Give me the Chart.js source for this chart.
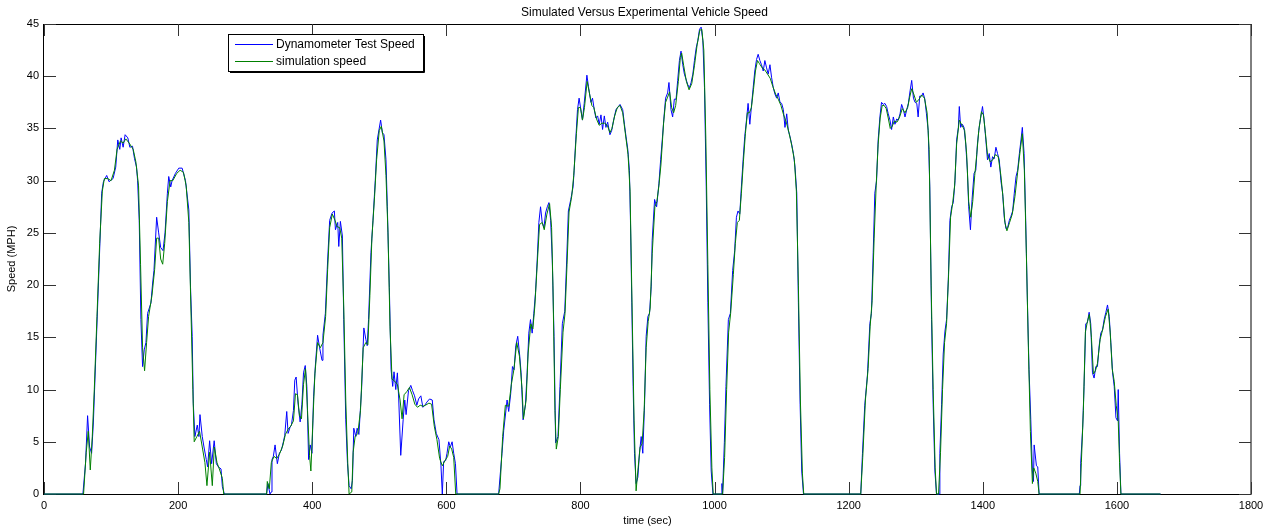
<!DOCTYPE html>
<html>
<head>
<meta charset="utf-8">
<title>Simulated Versus Experimental Vehicle Speed</title>
<script src="https://cdn.jsdelivr.net/npm/chart.js@4.4.1/dist/chart.umd.min.js"></script>
<style>
  html, body { margin: 0; padding: 0; background: #fff; }
  #wrap { width: 1270px; height: 529px; position: relative; }
</style>
</head>
<body>
<div id="wrap"><canvas id="speedChart"></canvas></div>
<script>
// chart text
const chartTitle = 'Simulated Versus Experimental Vehicle Speed';
const xTitle = 'time (sec)';
const yTitle = 'Speed (MPH)';
const seriesNames = ['Dynamometer Test Speed', 'simulation speed'];

// axis ticks
const xTicks = [0, 200, 400, 600, 800, 1000, 1200, 1400, 1600, 1800];
const yTicks = [0, 5, 10, 15, 20, 25, 30, 35, 40, 45];

// dynamometer test speed (blue)
const dynoTime = [
  0, 58, 62, 65, 68, 71, 73.6, 78.6, 82.6, 86, 88.6, 93.5, 97, 103, 107, 110, 113, 115, 118, 121,
  125, 128, 132, 135, 138, 139.6, 142, 144.5, 147, 149.5, 152, 154.5, 159.5, 162, 164, 168, 171, 174, 177.5, 180.5,
  184, 186, 189, 191, 196, 201, 206, 211, 216, 218.5, 221, 222.6, 225, 228.6, 231, 232.6, 236, 238.6, 242, 244,
  247, 250, 253.8, 257, 260, 264, 266, 269,
  332, 334, 337, 339, 340, 342, 344.6, 348, 351, 354, 357, 359, 362, 364, 367, 369, 372, 374, 376, 379,
  382, 384.6, 387, 389.6, 392, 394.6, 397, 399.6, 402, 404.6, 408, 411, 414.6, 416, 419.6, 423, 426, 429.6, 433, 434.6,
  438, 439.6, 442, 445, 447, 450, 452.6, 455, 458, 460, 462, 465, 467, 469.6, 473.6, 477, 480, 482, 484, 487.6,
  490.6, 494, 497, 502, 504.6, 507, 510, 512, 515, 517.6, 520, 522, 524.6, 527, 529, 532, 535.6, 538, 540, 543.6,
  547, 549.6, 552.6, 556, 558.6, 562, 565, 568, 571, 575, 579, 581.6, 585, 589, 592, 594, 596, 599, 601, 603.6,
  606, 608.6, 611, 613.6, 616,
  678, 683, 685.6, 690.6, 693, 696, 698.6, 701, 703.6, 706.5, 709.5, 711.5, 714.5, 718, 720.5, 723, 725.5, 728, 730.5, 733,
  735.5, 738, 740.5, 743, 745.6, 748, 750.6, 753, 755.6, 758, 760.6, 763, 766.5, 769.5, 773, 776.6, 779.5, 782, 785.6, 789,
  790.6, 793, 795.6, 798, 800.6, 803, 805.6, 809.6, 812, 815.6, 818, 820.6, 823, 825.6, 828, 830.6, 833, 835.6, 838, 840.6,
  844, 846.6, 849.5, 853, 856.6, 859, 863, 865.6, 868, 870.6, 873, 874.6, 876.6, 878.6, 880.6, 883, 885.6, 888, 890.6, 893,
  895.6, 898, 900.6, 903, 905.6, 907, 910.6, 913.6, 917, 919.6, 922, 924.6, 927, 930, 932, 935, 937.5, 940, 942.6, 945,
  947.6, 950, 952.6, 955, 960, 962.6, 965, 967.6, 970, 972.6, 975, 977.6, 980, 982.6, 985, 987.6, 990, 992.6, 995, 997.6,
  1010, 1011, 1012, 1013, 1014.6, 1017, 1020.6, 1023.6, 1027, 1030, 1032.6, 1035, 1037.6, 1040, 1042.6, 1045, 1047.6, 1050, 1052.6, 1055,
  1057.6, 1060, 1062.6, 1065, 1067.6, 1070, 1072.6, 1075, 1077.6, 1080, 1082.6, 1085, 1087.6, 1090, 1092.6, 1095, 1097.6, 1100, 1102.6, 1105,
  1107.6, 1110, 1112.6, 1115, 1117.6, 1120, 1122.6, 1125, 1127.6, 1130, 1132.6,
  1218, 1220.6, 1224, 1228, 1231.6, 1234, 1236.6, 1239, 1241.6, 1244, 1246.6, 1249, 1251.6, 1254, 1256.6, 1259, 1261.6, 1264, 1266.6, 1269,
  1271.6, 1274, 1276.6, 1279, 1281.6, 1284, 1286.6, 1289, 1291.6, 1294, 1296.6, 1299, 1301.6, 1303.6, 1306, 1308.6, 1311, 1313.6, 1316, 1318.6,
  1321, 1323.6, 1326, 1328.6, 1331, 1335, 1336, 1338.6, 1341, 1343.6, 1346, 1348.6, 1351, 1353.6, 1356, 1358.6, 1361, 1363.6, 1365, 1367,
  1369.6, 1372, 1374.6, 1377, 1379, 1381.6, 1384, 1387, 1389.6, 1392, 1394.6, 1397, 1399.6, 1402, 1404.6, 1407, 1409.6, 1412, 1414.6, 1417,
  1419.6, 1422, 1424.6, 1427, 1429.6, 1432, 1434.6, 1437, 1439.6, 1442, 1444.6, 1447, 1449.6, 1452, 1454.6, 1457, 1459, 1461.6, 1464, 1466.6,
  1469, 1471.6, 1474, 1475.6, 1476.6, 1480, 1482, 1484,
  1544, 1545, 1546, 1549, 1551, 1553.6, 1556, 1558.6, 1561, 1563.6, 1566, 1568.6, 1571, 1573.6, 1576, 1578.6, 1581, 1583.6, 1586, 1588.6,
  1591, 1593.6, 1596, 1598.6, 1601, 1602, 1604, 1606, 1665
];
const dynoSpeed = [
  0, 0, 3, 7.5, 4.5, 3.9, 6.8, 15.6, 22.6, 28.8, 29.9, 30.5, 29.9, 30.2, 31.3, 33.9, 33, 34.1, 33.2, 34.4,
  34.1, 33.2, 33.3, 32.1, 31.3, 30, 26.2, 16.7, 12.2, 13.8, 14.5, 17.3, 18.3, 20.2, 21.4, 26.5, 25, 23.6, 23.3, 25,
  28.8, 30.4, 29.4, 30, 30.7, 31.2, 31.2, 30, 27.2, 19.8, 15.1, 8.7, 5.5, 6.6, 5.5, 7.6, 5.5, 4.5, 3.3, 2.6,
  5.1, 2.9, 5.1, 2.9, 2.6, 2.4, 0.7, 0,
  0, 1, 0, 0.2, 3.3, 3.6, 4.7, 2.9, 3.9, 4.2, 5.0, 5.6, 7.9, 5.8, 6.4, 6.6, 8.0, 10.9, 11.2, 8.6,
  6.9, 8.6, 11.6, 12.3, 10.3, 3.3, 4.7, 3.9, 9.3, 12.2, 15.2, 14, 12.8, 15.2, 17.3, 22.4, 26.2, 26.9, 27.1, 25.3,
  26, 23.7, 26.1, 24.7, 16.7, 7.1, 2.9, 0.8, 0.5, 1.3, 6.3, 5.5, 6.3, 5.7, 10, 15.9, 14.8, 14.2, 16.7, 23.1,
  26.2, 30, 33.9, 35.8, 34.6, 34.4, 32, 27.5, 19.8, 11.9, 10.3, 11.7, 10, 11.6, 9.1, 3.7, 7.1, 9, 7.6, 9.9,
  10.4, 9.9, 9.4, 8.5, 9.1, 9.4, 8.3, 8.5, 8.8, 9.1, 9, 7.1, 5.8, 5.2, 2.7, 0, 3.1, 3.2, 3.9, 5.0,
  4.5, 5.0, 3.9, 2.9, 0,
  0, 3.9, 6.1, 9, 7.9, 9.6, 12.2, 11.9, 14.2, 15.1, 13.2, 11.6, 7.1, 8.6, 11.6, 15.4, 16.7, 15.4, 17.3, 19.3,
  22.4, 26, 27.5, 26, 25.5, 26.9, 27.5, 27.9, 26.2, 22.4, 15.1, 4.9, 5.5, 10.3, 16.3, 17.5, 22.4, 27.1, 28.2, 29.4,
  31, 33.9, 36.8, 37.9, 36.8, 35.8, 37.4, 40.1, 39, 37.5, 37.9, 36.8, 36, 36.2, 35.4, 36.3, 34.9, 36.2, 35.1, 35.6,
  34.4, 34.8, 35.8, 36.8, 37.1, 37.3, 36.8, 35.4, 34.2, 33, 31, 26.2, 18.3, 10.3, 3.9, 1.0, 1.6, 3.9, 5.5, 3.9,
  8.6, 15.1, 17, 17.3, 19.9, 24.3, 28.2, 27.5, 29.7, 32, 33.9, 36.1, 37.9, 38.4, 39.4, 36.8, 36.1, 37.8, 37.8, 39.6,
  41.5, 42.4, 41.1, 40.2, 39.2, 38.9, 39.4, 40.2, 41.5, 42.7, 43.4, 44.5, 44.7, 43.4, 38.9, 29.4, 18.3, 8.6, 2.2, 0,
  0, 1, 0, 2, 4.9, 10.3, 16.7, 17.3, 21.4, 23.3, 26.5, 27.1, 26.8, 29.4, 32, 34.2, 35.8, 37.4, 35.4, 37.1,
  38.9, 40.5, 41.6, 42.1, 41.5, 41.1, 40.5, 41.5, 40.8, 40.2, 41.1, 39.9, 38.9, 38.3, 37.9, 38.4, 37.5, 37.4, 36.8, 35.1,
  36.4, 34.8, 34.2, 33.5, 32.6, 31.3, 28.8, 18.3, 8.6, 2.2, 0,
  0, 3.9, 8.5, 11.4, 16.3, 17.3, 23.1, 28.8, 30, 33.9, 36.1, 37.5, 37.3, 37.4, 37.1, 36.4, 35.8, 34.9, 36.1, 35.4,
  35.9, 35.8, 36.4, 37.3, 36.8, 36.1, 36.8, 37.4, 38.6, 39.6, 37.9, 37.5, 37.4, 36.1, 38.1, 38.1, 38.4, 37.8, 36.4, 34.8,
  29.4, 16.7, 8.6, 2.2, 0, 0, 3.9, 8.6, 13.4, 15.6, 16.7, 20.5, 26.2, 27.5, 27.9, 30, 33.9, 35.1, 37.1, 35.1,
  35.4, 35.1, 33.5, 31, 27.5, 25.3, 28.2, 30.7, 31, 33.5, 35.1, 36.1, 37.1, 35.8, 33.9, 32, 32.6, 31.3, 32.3, 32.1,
  33.2, 32.6, 32, 30, 28.8, 26.5, 25.4, 25.5, 26.2, 26.6, 27.1, 28.8, 30.4, 31, 32.6, 33.9, 35.1, 32.6, 26.2, 18.3,
  11.9, 7.1, 2.2, 1.2, 4.7, 2.7, 2.6, 0,
  0, 0.8, 2.9, 6.4, 10.3, 16.3, 16.4, 17.4, 16.3, 11.6, 11.1, 12.2, 12.2, 14.2, 15.4, 15.7, 16.7, 17.4, 18.1, 17,
  14.5, 11.6, 10.3, 7.3, 7, 10, 3.9, 0, 0
];

// simulation speed (green)
const simTime = [
  0, 59, 63, 66, 69, 72, 75, 79, 83, 87, 90, 95, 100, 105, 109, 114, 118, 122, 127, 133,
  137, 141, 144, 147, 150, 153, 156, 161, 165, 168, 171, 174, 177, 180, 184, 188, 192, 198, 203, 208,
  212, 216, 219, 222, 224, 228, 232, 236, 240, 243, 247, 251, 254, 258, 262, 266, 268,
  332, 333, 336, 339, 343, 347, 351, 356, 360, 364, 368, 372, 375, 378, 381, 384, 387, 390, 393, 396,
  398, 401, 404, 408, 412, 416, 420, 423, 426, 430, 434, 437, 441, 444, 447, 450, 453, 455, 459, 461,
  464, 468, 472, 476, 480, 483, 486, 489, 493, 496, 500, 503, 507, 510, 513, 516, 519, 523, 527, 531,
  534, 537, 541, 545, 549, 553, 557, 561, 565, 569, 574, 578, 582, 586, 590, 594, 598, 602, 605, 608,
  611, 614,
  678, 680, 684, 688, 693, 697, 701, 705, 709, 713, 715, 719, 722, 726, 729, 732, 736, 739, 743, 746,
  750, 754, 757, 759, 762, 764, 767, 770, 774, 777, 780, 783, 787, 790, 794, 797, 800, 803, 806, 810,
  813, 817, 820, 824, 828, 832, 836, 840, 844, 847, 851, 855, 859, 863, 867, 871, 874, 877, 880, 883,
  886, 889, 892, 895, 898, 901, 904, 907, 911, 914, 917, 920, 924, 927, 930, 933, 936, 939, 942, 946,
  949, 951, 954, 958, 962, 966, 970, 974, 978, 981, 984, 987, 990, 993, 996, 998,
  1012, 1015, 1018, 1021, 1024, 1028, 1031, 1034, 1037, 1040, 1043, 1046, 1049, 1052, 1055, 1058, 1061, 1064, 1067, 1071,
  1075, 1079, 1083, 1087, 1091, 1095, 1099, 1103, 1107, 1111, 1115, 1119, 1122, 1125, 1128, 1131, 1133,
  1218, 1221, 1225, 1229, 1232, 1235, 1238, 1241, 1244, 1247, 1250, 1253, 1256, 1259, 1262, 1265, 1268, 1272, 1276, 1280,
  1284, 1288, 1291, 1294, 1297, 1301, 1305, 1309, 1313, 1317, 1320, 1323, 1326, 1329, 1331, 1334, 1337, 1340, 1343, 1346,
  1349, 1352, 1355, 1358, 1361, 1365, 1369, 1373, 1376, 1379, 1382, 1385, 1388, 1391, 1394, 1398, 1401, 1404, 1407, 1411,
  1415, 1419, 1423, 1427, 1430, 1433, 1436, 1440, 1444, 1448, 1452, 1456, 1459, 1462, 1465, 1468, 1471, 1474, 1476, 1479,
  1482, 1484,
  1545, 1547, 1550, 1553, 1556, 1559, 1562, 1565, 1568, 1571, 1575, 1579, 1583, 1587, 1590, 1593, 1596, 1599, 1602, 1604,
  1606, 1665
];
const simSpeed = [
  0, 0, 4, 6, 2.3, 5.5, 10, 17, 24, 29, 30.2, 30.2, 30, 31, 33, 33.8, 33.6, 34, 33.6, 33,
  31.8, 29.5, 22, 14, 11.8, 14.5, 17, 19, 21.5, 24.5, 24.5, 22.5, 22, 24, 28, 30, 30, 30.7, 31, 30.8,
  29.5, 26, 18, 10, 5, 5.5, 6, 4.5, 3, 0.8, 4, 0.8, 4.5, 3, 2.3, 1.5, 0,
  0, 1.2, 0.5, 3, 3.6, 3.4, 3.8, 4.6, 5.7, 6.2, 6.5, 7, 9.6, 9.5, 7.5, 7.2, 10.5, 12, 8, 3.7,
  2.2, 7, 11.5, 14.5, 14, 14.5, 17, 21.5, 25.5, 26.8, 26.2, 25.6, 25.5, 24.5, 18, 9, 3, 0, 0.2, 4,
  5.5, 5.8, 8, 14, 14.5, 14.3, 19, 24.5, 28.5, 32, 34.8, 35.2, 33.8, 30.5, 25, 16, 11, 10.8, 10.5, 9,
  7.2, 9.5, 9.8, 10.2, 9.5, 8.6, 8.3, 8.5, 8.4, 8.5, 8.7, 8.6, 6.5, 5.2, 3.4, 2.7, 3.2, 3.6, 4.6, 4.3,
  3.5, 0,
  0, 0.5, 5.5, 8.5, 8.4, 10.5, 12, 14.5, 13.2, 10, 7.2, 9, 13.5, 16.3, 15.8, 18, 22.5, 25.8, 26, 25.3,
  26.8, 27.8, 25.5, 20, 8, 4.3, 5.5, 10, 15.5, 17.3, 22, 27, 28.5, 30.5, 34.5, 37, 37, 35.8, 37, 39.5,
  38.5, 37.2, 37, 35.9, 35.3, 35.5, 35.5, 35.3, 34.6, 35, 36.2, 37, 37.2, 36.5, 34.5, 32.5, 29, 18, 7, 0.3,
  2.5, 4.5, 4.8, 8, 14, 16.5, 17.8, 23, 27.5, 28, 29.5, 31.5, 35.5, 37.5, 38, 38.5, 37, 36.5, 37.2, 39.5,
  41.8, 42.2, 41, 39.5, 38.7, 39.3, 41, 43, 44.4, 44.5, 42.5, 34, 22, 10, 2.5, 0,
  0, 3.5, 10, 15.5, 17.3, 21, 24, 26, 26.2, 28.8, 31.8, 34.5, 36.5, 36.5, 37, 38.7, 40.5, 41.5, 41.2, 40.8,
  40.6, 40.2, 39.8, 39, 38.3, 37.8, 37.2, 36.3, 35.6, 34.6, 33.4, 32, 29, 20, 9, 2, 0,
  0, 3.5, 9, 12, 16, 18.5, 24.5, 29.5, 33.5, 36, 37.2, 37.2, 36.9, 36, 35, 35.2, 35.7, 35.6, 36.1, 36.9,
  36.5, 37, 38, 38.8, 38.3, 37.5, 37.8, 38.2, 37.9, 36.5, 33, 20, 10, 2.5, 0, 0, 4, 10, 14.5, 16.3,
  21, 26.5, 27.8, 29.5, 33.5, 35.8, 35.3, 34.8, 32.5, 28, 26.5, 28, 30.5, 32.5, 34.8, 36.6, 36.3, 34.5, 32.5, 31.8,
  32, 32.5, 32.3, 30.5, 28.5, 26, 25.2, 26, 26.8, 28.5, 30.8, 33, 34.5, 31, 23, 14, 6, 1, 2.5, 2,
  1.2, 0,
  0, 3, 8, 15.5, 16.5, 17.2, 15, 11.5, 11.8, 12.5, 14.8, 15.8, 17, 17.7, 15.5, 12, 10.8, 8.5, 7, 3,
  0, 0
];

const blueColor = '#0000ff';
const greenColor = '#008000';
const fontFamily = '"Liberation Sans", Arial, Helvetica, sans-serif';

function toPoints(times, speeds) {
    return times.map((t, i) => ({ x: t, y: speeds[i] }));
}

// box, inner tick marks, title and in-plot legend, drawn the MATLAB way
const matlabFrame = {
    id: 'matlabFrame',
    beforeDatasetsDraw(chart) {
        const { ctx, chartArea: a, scales } = chart;
        ctx.save();
        ctx.strokeStyle = '#000';
        ctx.lineWidth = 1;
        ctx.strokeRect(a.left - 0.5, a.top + 0.5, a.right - a.left + 0.5, a.bottom - a.top);
        ctx.strokeStyle = '#333';
        ctx.beginPath();
        xTicks.forEach(v => {
            const px = Math.round(scales.x.getPixelForValue(v)) + 0.5;
            ctx.moveTo(px, a.bottom); ctx.lineTo(px, a.bottom - 12);
            ctx.moveTo(px, a.top); ctx.lineTo(px, a.top + 12);
        });
        yTicks.forEach(v => {
            const py = Math.round(scales.y.getPixelForValue(v)) + 0.5;
            ctx.moveTo(a.left, py); ctx.lineTo(a.left + 12, py);
            ctx.moveTo(a.right, py); ctx.lineTo(a.right - 12, py);
        });
        ctx.stroke();
        ctx.restore();
    },
    afterDraw(chart) {
        const { ctx, chartArea: a } = chart;
        ctx.save();
        // title
        ctx.fillStyle = '#000';
        ctx.font = '12px ' + fontFamily;
        ctx.textAlign = 'center';
        ctx.textBaseline = 'middle';
        ctx.fillText(chartTitle, (a.left + a.right) / 2 - 3, 12.5);

        // legend box
        const bx = 228, by = 34, bw = 195, bh = 37;
        ctx.fillStyle = '#fff';
        ctx.fillRect(bx, by, bw, bh);
        ctx.strokeStyle = '#000';
        ctx.lineWidth = 1;
        ctx.strokeRect(bx + 0.5, by + 0.5, bw, bh);
        ctx.beginPath();
        ctx.moveTo(bx + bw + 1.5, by + 2); ctx.lineTo(bx + bw + 1.5, by + bh + 1.5);
        ctx.lineTo(bx + 2, by + bh + 1.5);
        ctx.stroke();

        const colors = [blueColor, greenColor];
        ctx.font = '12px ' + fontFamily;
        ctx.textAlign = 'left';
        seriesNames.forEach((name, i) => {
            const ly = by + 10.5 + i * 17;
            ctx.strokeStyle = colors[i];
            ctx.beginPath();
            ctx.moveTo(bx + 7, ly); ctx.lineTo(bx + 45, ly);
            ctx.stroke();
            ctx.fillStyle = '#000';
            ctx.fillText(name, bx + 48, ly + 0.5);
        });
        ctx.restore();
    }
};

const ctx = document.getElementById('speedChart').getContext('2d');
new Chart(ctx, {
    type: 'line',
    data: {
        datasets: [
            {
                label: seriesNames[0],
                data: toPoints(dynoTime, dynoSpeed),
                borderColor: blueColor,
                borderWidth: 1,
                pointRadius: 0,
                tension: 0,
                clip: 3,
                order: 2
            },
            {
                label: seriesNames[1],
                data: toPoints(simTime, simSpeed),
                borderColor: greenColor,
                borderWidth: 1,
                pointRadius: 0,
                tension: 0,
                clip: 3,
                order: 1
            }
        ]
    },
    options: {
        responsive: true,
        maintainAspectRatio: false,
        animation: false,
        events: [],
        layout: { padding: { top: 24, right: 19, left: 0, bottom: 0 } },
        plugins: {
            legend: { display: false },
            title: { display: false },
            tooltip: { enabled: false }
        },
        scales: {
            x: {
                type: 'linear',
                min: 0,
                max: 1800,
                afterFit: scale => { scale.height = 35; },
                afterBuildTicks: scale => { scale.ticks = xTicks.map(v => ({ value: v })); },
                ticks: {
                    autoSkip: false,
                    maxRotation: 0,
                    padding: 5,
                    color: '#000',
                    font: { family: fontFamily, size: 11 },
                    callback: v => String(v)
                },
                grid: { display: false, drawTicks: false },
                border: { display: false },
                title: {
                    display: true,
                    text: xTitle,
                    color: '#000',
                    padding: { top: 0, bottom: 1 },
                    font: { family: fontFamily, size: 11 }
                }
            },
            y: {
                type: 'linear',
                min: 0,
                max: 45,
                afterFit: scale => { scale.width = 44; },
                afterBuildTicks: scale => { scale.ticks = yTicks.map(v => ({ value: v })); },
                ticks: {
                    autoSkip: false,
                    padding: 5,
                    color: '#000',
                    font: { family: fontFamily, size: 11 },
                    callback: v => String(v)
                },
                grid: { display: false, drawTicks: false },
                border: { display: false },
                title: {
                    display: true,
                    text: yTitle,
                    color: '#000',
                    padding: { top: 5, bottom: 0 },
                    font: { family: fontFamily, size: 11 }
                }
            }
        }
    },
    plugins: [matlabFrame]
});
</script>
</body>
</html>
